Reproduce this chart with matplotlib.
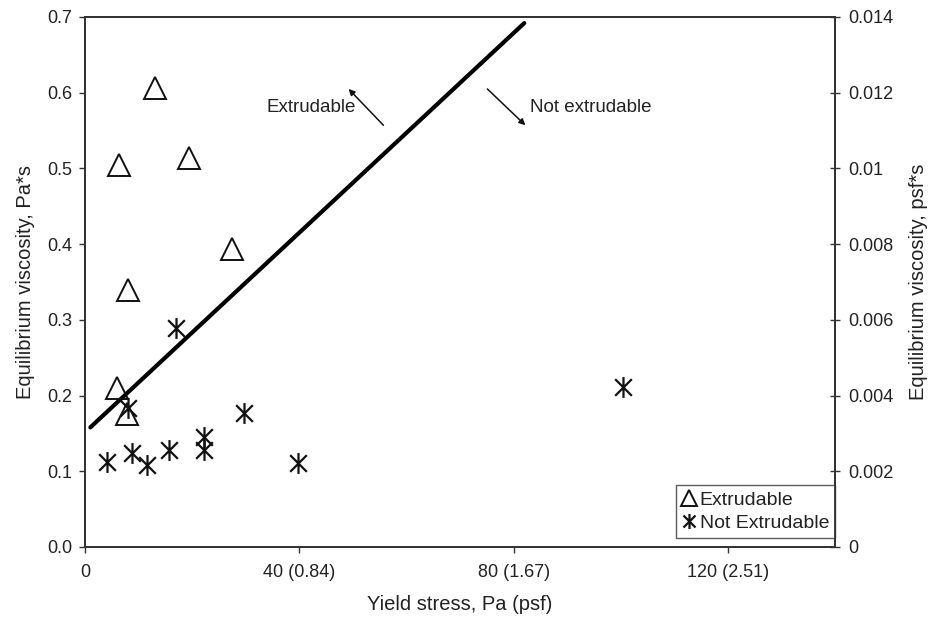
import matplotlib
matplotlib.use("Agg")
import matplotlib.pyplot as plt
from matplotlib.path import Path

plt.rcParams['font.family'] = ['Liberation Sans', 'DejaVu Sans']

# Extrudable mixtures: yield stress (Pa) and equilibrium viscosity (Pa*s)
extr_x = [13.0, 6.3, 19.4, 27.5, 8.0, 6.0, 7.8]
extr_y = [0.606, 0.505, 0.514, 0.393, 0.340, 0.210, 0.175]

# Non-extrudable mixtures
nonext_x = [17.0, 8.1, 4.1, 8.8, 11.5, 15.6, 22.2, 22.2, 29.7, 39.8, 100.5]
nonext_y = [0.289, 0.184, 0.112, 0.124, 0.108, 0.128, 0.145, 0.128, 0.177, 0.111, 0.211]

# Boundary line between the two regions
bound_x = [1.0, 82.0]
bound_y = [0.158, 0.692]

x_ticks = [0, 40, 80, 120]
x_ticklabels = ["0", "40 (0.84)", "80 (1.67)", "120 (2.51)"]
y_ticks = [0.0, 0.1, 0.2, 0.3, 0.4, 0.5, 0.6, 0.7]
y2_ticks = [0, 0.002, 0.004, 0.006, 0.008, 0.010, 0.012, 0.014]
y2_ticklabels = ["0", "0.002", "0.004", "0.006", "0.008", "0.01", "0.012", "0.014"]

# Asterisk marker: vertical stroke plus an X
star = Path([(0, -1), (0, 1), (-0.8, -0.8), (0.8, 0.8), (-0.8, 0.8), (0.8, -0.8)],
            [Path.MOVETO, Path.LINETO, Path.MOVETO, Path.LINETO, Path.MOVETO, Path.LINETO])

txt = '#222222'
spine_c = '#333333'

fig = plt.figure(figsize=(9.33, 6.18), dpi=100)
ax = fig.add_axes([0.0911, 0.1149, 0.8039, 0.8576])

ax.plot(bound_x, bound_y, color='black', lw=3.0, solid_capstyle='round', zorder=3)
tri = ax.plot(extr_x, extr_y, linestyle='none', marker='^', markersize=16,
              markerfacecolor='none', markeredgecolor='#111111', markeredgewidth=1.4,
              label='Extrudable', zorder=4)[0]
ast = ax.plot(nonext_x, nonext_y, linestyle='none', marker=star, markersize=15,
              markerfacecolor='none', markeredgecolor='#111111', markeredgewidth=1.6,
              label='Not Extrudable', zorder=4)[0]

ax.set_xlim(0, 140)
ax.set_ylim(0, 0.7)
ax.set_xticks(x_ticks)
ax.set_xticklabels(x_ticklabels)
ax.set_yticks(y_ticks)
ax.set_yticklabels([f"{v:.1f}" for v in y_ticks])
ax.tick_params(axis='both', direction='out', length=4, width=1, colors=spine_c,
               labelcolor=txt, labelsize=13)
ax.tick_params(axis='x', pad=8)
ax.tick_params(axis='y', pad=5)
for s in ax.spines.values():
    s.set_color(spine_c)
    s.set_linewidth(1.3)

ax.set_xlabel("Yield stress, Pa (psf)", fontsize=14.5, color=txt, labelpad=10)
ax.set_ylabel("Equilibrium viscosity, Pa*s", fontsize=14.5, color=txt, labelpad=9)

ax2 = ax.twinx()
ax2.set_ylim(0, 0.014)
ax2.set_yticks(y2_ticks)
ax2.set_yticklabels(y2_ticklabels)
ax2.tick_params(axis='y', direction='inout', length=7, width=1, colors=spine_c,
                labelcolor=txt, labelsize=13, pad=6)
for s in ax2.spines.values():
    s.set_color(spine_c)
    s.set_linewidth(1.3)
ax2.set_ylabel("Equilibrium viscosity, psf*s", fontsize=14.5, color=txt, labelpad=11)

# Region annotations
ax.text(50.5, 0.580, "Extrudable", ha='right', va='center', fontsize=13.5, color=txt)
ax.annotate("", xy=(49.2, 0.605), xytext=(55.7, 0.557),
            arrowprops=dict(arrowstyle='-|>', color='#111111', lw=1.1,
                            mutation_scale=9, shrinkA=0, shrinkB=0))
ax.text(83.0, 0.580, "Not extrudable", ha='left', va='center', fontsize=13.5, color=txt)
ax.annotate("", xy=(82.2, 0.557), xytext=(75.1, 0.605),
            arrowprops=dict(arrowstyle='-|>', color='#111111', lw=1.1,
                            mutation_scale=9, shrinkA=0, shrinkB=0))

leg = ax.legend(handles=[tri, ast], loc='lower right', bbox_to_anchor=(1.0, 0.017),
                frameon=True, fancybox=False, fontsize=14, handlelength=0.7,
                handletextpad=0.2, borderpad=0.3, labelspacing=0.3, markerscale=0.72,
                borderaxespad=0)
leg.get_frame().set_edgecolor('#333333')
leg.get_frame().set_linewidth(1.0)
for t in leg.get_texts():
    t.set_color(txt)

fig.savefig("out.png", dpi=100, facecolor='white')
